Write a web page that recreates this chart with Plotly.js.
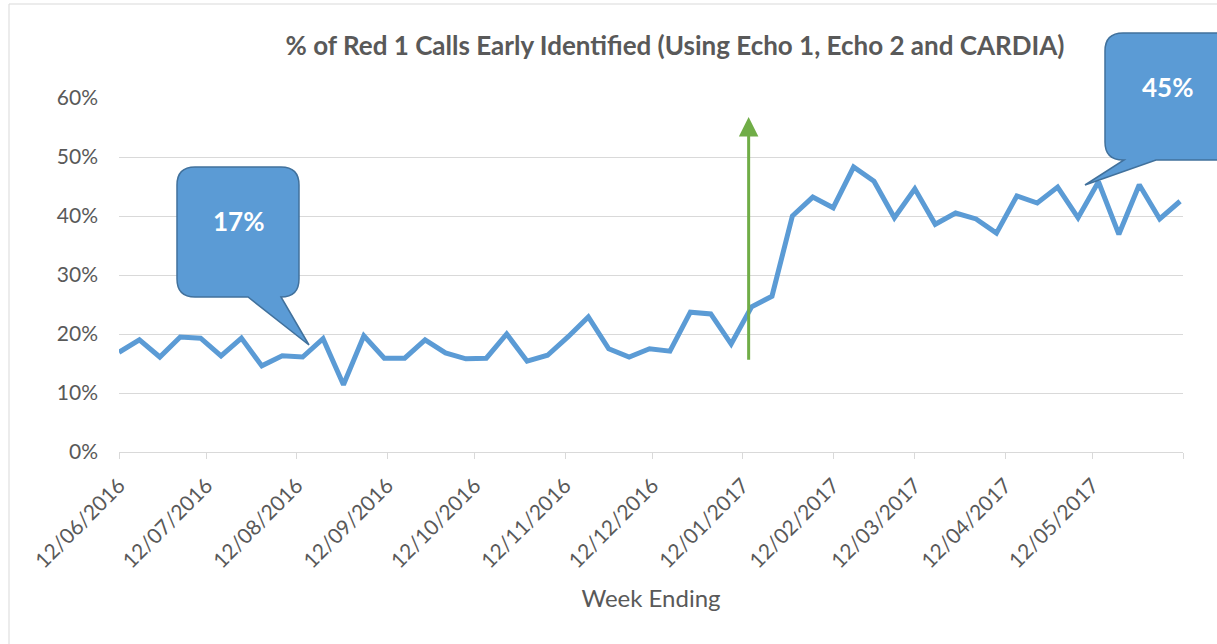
<!DOCTYPE html>
<html>
<head>
<meta charset="utf-8">
<script src="https://cdn.plot.ly/plotly-3.0.1.min.js"></script>
<style>html,body{margin:0;padding:0;background:#fff;}#chart{width:1217px;height:644px;}</style>
</head>
<body>
<div id="chart"></div>
<script>
// ---- Data ----
const weekEnding = [
  '2016-06-12','2016-06-19','2016-06-26','2016-07-03','2016-07-10','2016-07-17','2016-07-24','2016-07-31',
  '2016-08-07','2016-08-14','2016-08-21','2016-08-28','2016-09-04','2016-09-11','2016-09-18','2016-09-25',
  '2016-10-02','2016-10-09','2016-10-16','2016-10-23','2016-10-30','2016-11-06','2016-11-13','2016-11-20',
  '2016-11-27','2016-12-04','2016-12-11','2016-12-18','2016-12-25','2017-01-01','2017-01-08','2017-01-15',
  '2017-01-22','2017-01-29','2017-02-05','2017-02-12','2017-02-19','2017-02-26','2017-03-05','2017-03-12',
  '2017-03-19','2017-03-26','2017-04-02','2017-04-09','2017-04-16','2017-04-23','2017-04-30','2017-05-07',
  '2017-05-14','2017-05-21','2017-05-28','2017-06-04','2017-06-11'
];
const pctEarlyIdentified = [
  0.169,0.190,0.161,0.195,0.193,0.163,0.193,0.146,
  0.163,0.161,0.192,0.114,0.197,0.159,0.159,0.190,
  0.168,0.158,0.159,0.200,0.154,0.164,0.195,0.229,
  0.175,0.161,0.175,0.171,0.237,0.234,0.183,0.246,
  0.264,0.400,0.432,0.414,0.483,0.459,0.397,0.446,
  0.386,0.405,0.395,0.371,0.434,0.422,0.449,0.397,
  0.458,0.369,0.453,0.395,0.425
];
const tickDates = ['2016-06-12','2016-07-12','2016-08-12','2016-09-12','2016-10-12','2016-11-12',
  '2016-12-12','2017-01-12','2017-02-12','2017-03-12','2017-04-12','2017-05-12','2017-06-12'];
const tickLabels = ['12/06/2016','12/07/2016','12/08/2016','12/09/2016','12/10/2016','12/11/2016',
  '12/12/2016','12/01/2017','12/02/2017','12/03/2017','12/04/2017','12/05/2017',''];
const arrowDate = '2017-01-14';
const arrowFrom = 0.154;
const arrowTo = 0.568;
const callout1Label = '17%';
const callout2Label = '45%';

// ---- Layout helpers (pixel -> paper) ----
const L = 119, R = 34, T = 98, B = 192, W = 1217, H = 644;
const PW = W - L - R, PH = H - T - B;
const px = x => (x - L) / PW;
const py = y => (H - B - y) / PH;

function callout(x0, y0, x1, y1, r, bl, br, tx, ty) {
  const P = (x, y) => px(x).toFixed(5) + ',' + py(y).toFixed(5);
  return 'M' + P(x0 + r, y0) +
    ' L' + P(x1 - r, y0) + ' Q' + P(x1, y0) + ' ' + P(x1, y0 + r) +
    ' L' + P(x1, y1 - r) + ' Q' + P(x1, y1) + ' ' + P(x1 - r, y1) +
    ' L' + P(br, y1) + ' L' + P(tx, ty) + ' L' + P(bl, y1) +
    ' L' + P(x0 + r, y1) + ' Q' + P(x0, y1) + ' ' + P(x0, y1 - r) +
    ' L' + P(x0, y0 + r) + ' Q' + P(x0, y0) + ' ' + P(x0 + r, y0) + ' Z';
}

const FONT = 'Lato, "Open Sans", sans-serif';
const GREY = '#595959';

const trace = {
  x: weekEnding, y: pctEarlyIdentified, type: 'scatter', mode: 'lines',
  line: {color: '#5B9BD5', width: 5}, cliponaxis: false, hoverinfo: 'x+y'
};

const layout = {
  width: W, height: H,
  margin: {l: L, r: R, t: T, b: B},
  paper_bgcolor: '#fff', plot_bgcolor: '#fff',
  showlegend: false,
  font: {family: FONT, color: GREY},
  title: {
    text: '% of Red 1 Calls Early Identified (Using Echo 1, Echo 2 and CARDIA)',
    font: {family: FONT, size: 26, color: GREY, weight: 'bold'},
    xref: 'container', yref: 'container', x: 675 / W, y: 1 - 46 / H,
    xanchor: 'center', yanchor: 'middle'
  },
  xaxis: {
    type: 'date', range: ['2016-06-12', '2017-06-12'],
    tickmode: 'array', tickvals: tickDates, ticktext: tickLabels,
    tickangle: -45, tickfont: {size: 21, color: GREY},
    ticks: 'outside', ticklen: 6, tickcolor: '#d9d9d9', tickwidth: 1,
    ticklabelstandoff: 6,
    showline: true, linecolor: '#d9d9d9', linewidth: 1,
    showgrid: false, zeroline: false,
    title: {text: 'Week Ending', font: {size: 24, color: GREY}, standoff: 18}
  },
  yaxis: {
    range: [0, 0.6], dtick: 0.1, tickformat: '.0%',
    tickfont: {size: 21, color: GREY},
    showgrid: true, gridcolor: '#d9d9d9', gridwidth: 1,
    zeroline: false, showline: false, ticks: '', ticklabelstandoff: 20
  },
  shapes: [
    {type: 'rect', xref: 'paper', yref: 'paper', x0: px(9), x1: px(1240), y0: py(4), y1: py(680),
     line: {color: '#d9d9d9', width: 1}, fillcolor: 'rgba(0,0,0,0)', layer: 'below'},
    {type: 'path', xref: 'paper', yref: 'paper', layer: 'above',
     path: callout(177, 167, 299, 297, 18, 248, 281, 309, 345),
     fillcolor: '#5B9BD5', line: {color: '#41719C', width: 1.5}},
    {type: 'path', xref: 'paper', yref: 'paper', layer: 'above',
     path: callout(1105, 33, 1245, 160, 18, 1124, 1156, 1085, 185),
     fillcolor: '#5B9BD5', line: {color: '#41719C', width: 1.5}}
  ],
  annotations: [
    {xref: 'x', yref: 'y', x: arrowDate, y: arrowTo, axref: 'x', ayref: 'y', ax: arrowDate, ay: arrowFrom,
     text: '', showarrow: true, arrowhead: 2, arrowsize: 1.3, arrowwidth: 3, arrowcolor: '#70AD47'},
    {xref: 'paper', yref: 'paper', x: px(238), y: py(221), text: '<b>' + callout1Label + '</b>',
     showarrow: false, font: {family: FONT, size: 26, color: '#ffffff'}, xanchor: 'center', yanchor: 'middle'},
    {xref: 'paper', yref: 'paper', x: px(1167), y: py(87), text: '<b>' + callout2Label + '</b>',
     showarrow: false, font: {family: FONT, size: 26, color: '#ffffff'}, xanchor: 'center', yanchor: 'middle'}
  ]
};

Plotly.newPlot('chart', [trace], layout, {displayModeBar: false, staticPlot: true});
</script>
</body>
</html>
